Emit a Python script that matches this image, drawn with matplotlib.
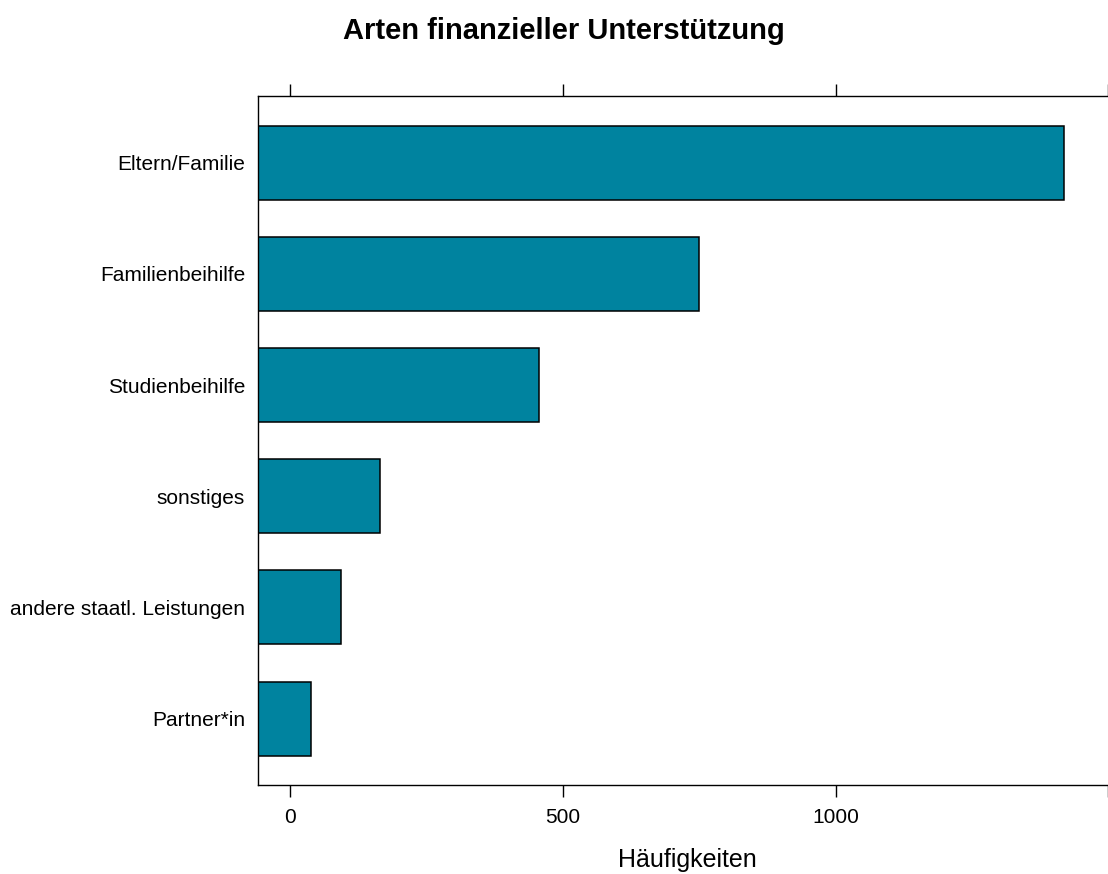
import matplotlib
matplotlib.use("Agg")
import matplotlib.pyplot as plt

categories = ["Eltern/Familie", "Familienbeihilfe", "Studienbeihilfe",
              "sonstiges", "andere staatl. Leistungen", "Partner*in"]
values = [1419, 750, 456, 165, 93, 38]
xticks = [0, 500, 1000, 1500]
xticklabels = ["0", "500", "1000", ""]

plt.rcParams['font.family'] = ['Liberation Sans', 'DejaVu Sans']

W, H = 1108, 874
fig = plt.figure(figsize=(W / 100, H / 100), dpi=100)

vmin, vmax = min(values), max(values)
pad = 0.07 * (vmax - vmin)
xlo, xhi = vmin - pad, vmax + pad

left_px, right_px, top_px, bottom_px = 258.3, 1116.8, 96.0, 785.3
ax = fig.add_axes([left_px / W, 1 - bottom_px / H,
                   (right_px - left_px) / W, (bottom_px - top_px) / H])

n = len(categories)
ypos = list(range(n, 0, -1))
ax.barh(ypos, [v - xlo for v in values], left=xlo, height=2 / 3,
        color="#00839F", edgecolor="black", linewidth=1.1)

ax.set_xlim(xlo, xhi)
ax.set_ylim(0.4, n + 0.6)
ax.set_yticks(ypos)
ax.set_yticklabels(categories, fontsize=15)
ax.tick_params(axis='y', length=0, pad=9.5)
ax.set_xticks(xticks)
ax.set_xticklabels(xticklabels, fontsize=15)
ax.tick_params(axis='x', top=True, bottom=True, length=8.7, width=1.0,
               direction='out', pad=8, color='black')
for s in ax.spines.values():
    s.set_linewidth(1.0)
ax.set_xlabel("Häufigkeiten", fontsize=18, labelpad=14.5)

fig.text(564 / W, 1 - 31 / H, "Arten finanzieller Unterstützung",
         ha='center', va='center', fontsize=21, fontweight='bold')

fig.savefig("out.png", dpi=100)
